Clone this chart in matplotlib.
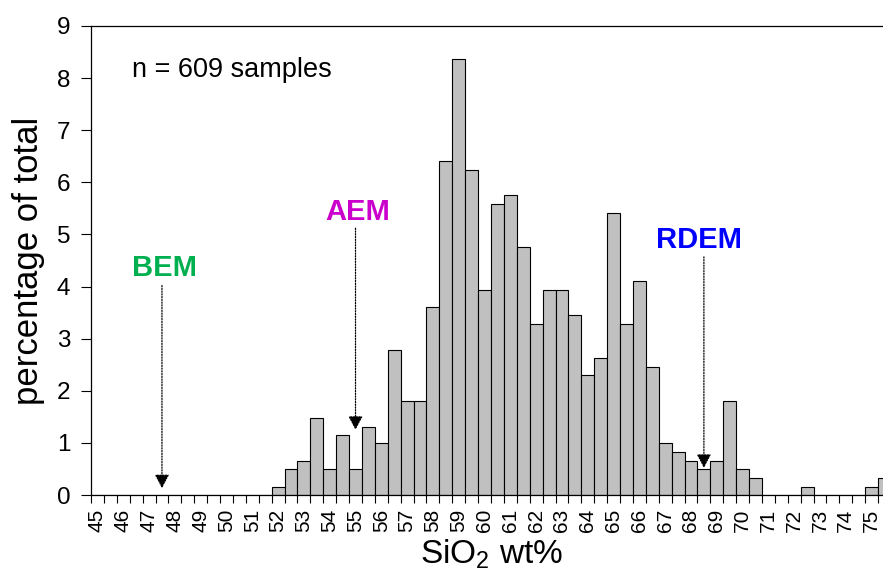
import numpy as np
import matplotlib
matplotlib.use('Agg')
from matplotlib import pyplot as plt

plt.rcParams['font.family'] = ['Liberation Sans', 'DejaVu Sans']
plt.rcParams['mathtext.default'] = 'regular'

# SiO2 bins (0.5 wt% wide), labelled by bin value
sio2 = np.arange(45., 76., 0.5)
# percentage of total (n = 609)
pct = [0, 0, 0, 0, 0, 0, 0, 0, 0, 0, 0, 0, 0, 0,
       0.16, 0.49, 0.66, 1.48, 0.49, 1.15, 0.49, 1.31, 0.99, 2.79,
       1.81, 1.81, 3.61, 6.40, 8.37, 6.24, 3.94, 5.58, 5.75, 4.76,
       3.28, 3.94, 3.94, 3.45, 2.30, 2.63, 5.42, 3.28, 4.11, 2.46,
       0.99, 0.82, 0.66, 0.49, 0.66, 1.81, 0.49, 0.33, 0, 0,
       0, 0.16, 0, 0, 0, 0, 0.16, 0.33]

# end-member markers: name, colour, arrow x, arrow tip y, arrow tail y, label x, label y
em_names = ['BEM', 'AEM', 'RDEM']
em_colors = ['#00B050', '#CC00CC', '#0000FF']
em_x = [47.5, 55.0, 68.5]
em_tip = [0.13, 1.25, 0.52]
em_tail = [4.02, 5.12, 4.57]
em_lx = [47.6, 55.1, 68.3]
em_ly = [4.36, 5.44, 4.89]

fig = plt.figure(figsize=(8.83, 5.77), dpi=100)
ax = fig.add_axes([91/883., 82/577., 800/883., 469/577.])

ax.bar(sio2, pct, width=0.5, color='#C0C0C0', edgecolor='black', linewidth=0.8, zorder=2)

ax.set_xlim(44.75, 75.75)
ax.set_ylim(0, 9)
ax.set_yticks(range(0, 10))
ax.set_xticks(range(45, 76))
ax.set_xticks(np.arange(44.75, 76, 0.5), minor=True)
ax.tick_params(axis='x', which='major', length=0, pad=10, labelsize=15, labelrotation=90)
ax.tick_params(axis='x', which='minor', length=6, width=0.8, direction='out')
ax.tick_params(axis='y', length=7, width=0.8, pad=8, labelsize=17.5)
for s in ax.spines.values():
    s.set_linewidth(0.9)
ax.spines['right'].set_visible(False)

ax.set_ylabel('percentage of total', fontsize=25, labelpad=8)
ax.set_xlabel(r'SiO$_2$ wt%', fontsize=24, labelpad=4)

ax.text(46.35, 8.16, 'n = 609 samples', fontsize=19.5, ha='left', va='center')

for name, c, x, tip, tail, lx, ly in zip(em_names, em_colors, em_x, em_tip, em_tail, em_lx, em_ly):
    ax.annotate('', xy=(x, tip), xytext=(x, tail),
                arrowprops=dict(arrowstyle='-|>,head_length=0.76,head_width=0.4', color='black',
                                linestyle=(0, (1, 1.2)), lw=0.9, shrinkA=0, shrinkB=0,
                                mutation_scale=11), zorder=3)
    ax.text(lx, ly, name, color=c, fontsize=21, fontweight='bold', ha='center', va='center')

fig.savefig('out.png', dpi=100)
